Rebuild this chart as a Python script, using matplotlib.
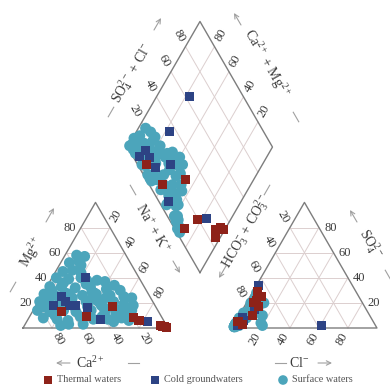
import numpy as np
import matplotlib
matplotlib.use("Agg")
import matplotlib.pyplot as plt

plt.rcParams['font.family'] = ['Liberation Serif', 'DejaVu Serif']
plt.rcParams['mathtext.fontset'] = 'custom'
plt.rcParams['mathtext.rm'] = 'Liberation Serif'
plt.rcParams['mathtext.it'] = 'Liberation Serif:italic'
plt.rcParams['mathtext.bf'] = 'Liberation Serif:bold'

# ---------------- data (percent of cations / anions) ----------------
thermal_na = [20, 39, 53, 72, 77, 96, 99, 97, 94]
thermal_mg = [13, 9, 17, 8, 6, 1, 0.5, 1, 2]
thermal_so4 = [5, 3, 17, 5, 10, 29, 25, 20, 22]
thermal_cl = [1, 6, 10, 2, 9, 3, 8, 5, 6]

cold_na = [23, 23, 12, 14, 19, 27, 36.5, 50, 83]
cold_mg = [40, 18, 18, 25, 21, 18, 16.5, 7, 5.5]
cold_so4 = [2, 34, 2, 8, 6, 7, 15, 4, 20]
cold_cl = [61, 1, 2.5, 3.5, 5, 4, 8, 3, 6]

surface_na = [8, 14, 6, 15, 5, 18, 3, 12, 25, 38, 2, 10, 20, 30, 42, 52,
              1, 9, 18, 28, 37, 47, 57, 63, 1, 8, 15, 24, 33, 43, 52, 60, 67,
              3, 12, 21, 30, 40, 50, 58, 66, 10, 20, 28, 45, 55, 64, 70,
              30, 40, 45, 35,
              5, 10, 15, 22, 26, 33, 4, 6, 16, 27, 36, 48, 55, 62, 17, 35,
              50, 60, 25, 46, 11, 12, 68, 20, 32,
              40, 35, 45]
surface_mg = [58, 57, 52, 50, 45, 44, 40, 39, 38, 37, 33, 33, 32, 33, 31, 30,
              27, 26, 27, 26, 27, 26, 25, 24, 21, 20, 21, 20, 21, 20, 21, 19, 18,
              14, 13, 14, 13, 14, 13, 12, 12, 8, 7, 6, 7, 7, 8, 6,
              3, 3, 24, 22,
              30, 36, 28, 24, 35, 29, 24, 17, 17, 17, 17, 16, 16, 15, 10, 9,
              9, 5, 2, 34, 46, 53, 14, 40, 38,
              22, 28, 18]
surface_so4 = [4, 6, 3, 8, 2, 10, 5, 7, 14, 12, 3, 9, 4, 18, 20, 10,
               1, 6, 12, 3, 22, 16, 6, 2, 6, 2, 15, 8, 5, 24, 13, 4, 1,
               4, 10, 5, 12, 7, 2, 8, 3, 3, 8, 1, 5, 10, 2, 1,
               2, 4, 28, 2,
               15, 18, 20, 17, 10, 25, 10, 8, 12, 3, 10, 7, 15, 5, 2, 8,
               4, 3, 2, 12, 6, 4, 2, 3, 6,
               20, 10, 4]
surface_cl = [2, 3, 2, 4, 1, 5, 3, 2, 6, 8, 1, 4, 2, 7, 8, 5,
              1, 2, 3, 3, 6, 10, 4, 2, 2, 1, 5, 6, 2, 4, 9, 1, 1,
              1, 3, 4, 10, 3, 2, 4, 1, 3, 1, 2, 5, 3, 4, 1,
              1, 2, 3, 20,
              5, 4, 3, 6, 3, 4, 3, 2, 2, 1, 4, 2, 5, 2, 1, 3,
              1, 2, 1, 4, 2, 1, 1, 2, 2,
              12, 16, 18]

tick_values = [20, 40, 60, 80]
legend_labels = ["Thermal waters", "Cold groundwaters", "Surface waters"]

# ---------------- geometry ----------------
H = np.sqrt(3) / 2
G = 0.441          # gap between triangles (in side units)
OX = 1 + G         # x offset of anion triangle
B = np.array([1 + G / 2, G * H])   # bottom vertex of diamond
EU = np.array([-0.5, H])
EV = np.array([0.5, H])

def cation_xy(na, mg):
    na = np.asarray(na) / 100.0
    mg = np.asarray(mg) / 100.0
    return na + 0.5 * mg, H * mg

def anion_xy(so4, cl):
    so4 = np.asarray(so4) / 100.0
    cl = np.asarray(cl) / 100.0
    return OX + cl + 0.5 * so4, H * so4

def diamond_xy(na, so4, cl):
    u = 1 - np.asarray(na) / 100.0
    v = (np.asarray(so4) + np.asarray(cl)) / 100.0
    return B[0] + 0.5 * (v - u), B[1] + H * (u + v)

SCALE = 145.0  # px per unit
W, HT = 390, 392
fig = plt.figure(figsize=(W / 100, HT / 100), dpi=100)
ax = fig.add_axes([0, 0, 1, 1])
ax.set_xlim(-23 / SCALE, (W - 23) / SCALE)
ax.set_ylim(-(HT - 328) / SCALE, 328 / SCALE)
ax.axis('off')

def P(px, py):
    return ((px - 23) / SCALE, (328 - py) / SCALE)

GRID = '#dccfcf'
EDGE = '#7d7d7d'
TXT = '#3a3a3a'
DECO = '#a0a0a0'

def seg(p, q, **kw):
    ax.plot([p[0], q[0]], [p[1], q[1]], **kw)

# ---------------- grids and outlines ----------------
for t in [0.2, 0.4, 0.6, 0.8]:
    seg((t / 2, t * H), (1 - t / 2, t * H), color=GRID, lw=0.7, zorder=1)
    seg((t, 0), (t + (1 - t) / 2, (1 - t) * H), color=GRID, lw=0.7, zorder=1)
    seg((1 - t, 0), ((1 - t) / 2, (1 - t) * H), color=GRID, lw=0.7, zorder=1)
    seg((OX + t / 2, t * H), (OX + 1 - t / 2, t * H), color=GRID, lw=0.7, zorder=1)
    seg((OX + t, 0), (OX + t + (1 - t) / 2, (1 - t) * H), color=GRID, lw=0.7, zorder=1)
    seg((OX + 1 - t, 0), (OX + (1 - t) / 2, (1 - t) * H), color=GRID, lw=0.7, zorder=1)
    p = B + t * EU
    seg(p, p + EV, color=GRID, lw=0.7, zorder=1)
    p = B + t * EV
    seg(p, p + EU, color=GRID, lw=0.7, zorder=1)

tri = np.array([[0, 0], [1, 0], [0.5, H], [0, 0]])
ax.plot(tri[:, 0], tri[:, 1], color=EDGE, lw=1.0, zorder=2)
ax.plot(tri[:, 0] + OX, tri[:, 1], color=EDGE, lw=1.0, zorder=2)
dia = np.array([B, B + EU, B + EU + EV, B + EV, B])
ax.plot(dia[:, 0], dia[:, 1], color=EDGE, lw=1.0, zorder=2)

# ---------------- tick labels ----------------
D = 0.088
FS = 9
for tv in tick_values:
    t = tv / 100.0
    lab = str(tv)
    ax.text(t / 2 - 0.035, t * H, lab, ha='right', va='center', fontsize=FS, color=TXT)
    p = np.array([1 - t, 0]) + D * np.array([0.5, -H])
    ax.text(p[0], p[1], lab, ha='center', va='center', rotation=-60, fontsize=FS, color=TXT)
    p = np.array([t + (1 - t) / 2, (1 - t) * H]) + D * np.array([0.5, H])
    ax.text(p[0], p[1], lab, ha='center', va='center', rotation=60, fontsize=FS, color=TXT)
    ax.text(OX + 1 - t / 2 + 0.035, t * H, lab, ha='left', va='center', fontsize=FS, color=TXT)
    p = np.array([OX + t, 0]) + D * np.array([-0.5, -H])
    ax.text(p[0], p[1], lab, ha='center', va='center', rotation=60, fontsize=FS, color=TXT)
    p = np.array([OX + (1 - t) / 2, (1 - t) * H]) + D * np.array([-0.5, H])
    ax.text(p[0], p[1], lab, ha='center', va='center', rotation=-60, fontsize=FS, color=TXT)
    p = B + EU + t * EV + D * np.array([-0.5, H])
    ax.text(p[0], p[1], lab, ha='center', va='center', rotation=-60, fontsize=FS, color=TXT)
    p = B + EV + t * EU + D * np.array([0.5, H])
    ax.text(p[0], p[1], lab, ha='center', va='center', rotation=60, fontsize=FS, color=TXT)

# ---------------- axis titles with line and arrow ----------------
LFS = 10
def deco(line_c, line_dir, label, label_c, rot, arr_from, arr_to):
    c = np.array(line_c, float)
    d = np.array(line_dir, float)
    d = d / np.hypot(*d) * 5.5
    seg(P(*(c - d)), P(*(c + d)), color=DECO, lw=0.8)
    ax.text(*P(*label_c), label, rotation=rot, ha='center', va='center',
            fontsize=LFS, color=TXT, rotation_mode='anchor')
    ax.annotate('', xy=P(*arr_to), xytext=P(*arr_from),
                arrowprops=dict(arrowstyle='->', color=DECO, lw=0.8,
                                shrinkA=0, shrinkB=0, mutation_scale=8))

deco((13, 287), (0.5, -0.866), r'Mg$^{2+}$', (32, 252), 60, (46, 222), (54, 208))
deco((133, 363), (1, 0), r'Ca$^{2+}$', (90, 363), 0, (70, 363), (56, 363))
deco((133, 190), (0.5, 0.866), r'Na$^{+}$ + K$^{+}$', (152, 228), -60, (173, 261), (180, 273))
deco((267, 190), (-0.5, 0.866), r'HCO$_3^{-}$ + CO$_3^{2-}$', (246, 231), 60, (226, 266), (219, 278))
deco((388, 275), (0.5, 0.866), r'SO$_4^{2-}$', (370, 244), -60, (357, 222), (350, 210))
deco((111, 112), (0.5, -0.866), r'SO$_4^{2-}$ + Cl$^{-}$', (132, 73), 60, (154, 30), (161, 18))
deco((296, 117), (0.5, 0.866), r'Ca$^{2+}$ + Mg$^{2+}$', (266, 63), -60, (241, 25), (234, 13))
deco((280, 363), (1, 0), r'Cl$^{-}$', (299, 363), 0, (318, 363), (332, 363))

# ---------------- data points ----------------
C_TH = '#8e2219'
C_CO = '#2d4384'
C_SU = '#4ca5bb'
S_C = 62
S_S = 42

groups = [
    (surface_na, surface_mg, surface_so4, surface_cl, 'o', C_SU, S_C, 3),
    (cold_na, cold_mg, cold_so4, cold_cl, 's', C_CO, S_S, 4),
    (thermal_na, thermal_mg, thermal_so4, thermal_cl, 's', C_TH, S_S, 5),
]
for na, mg, so4, cl, mk, col, s, z in groups:
    x, y = cation_xy(na, mg)
    ax.scatter(x, y, marker=mk, s=s, color=col, edgecolors='none', zorder=z)
    x, y = anion_xy(so4, cl)
    ax.scatter(x, y, marker=mk, s=s, color=col, edgecolors='none', zorder=z)
    x, y = diamond_xy(na, so4, cl)
    ax.scatter(x, y, marker=mk, s=s, color=col, edgecolors='none', zorder=z)

# ---------------- legend (manual) ----------------
leg_items = [('s', C_TH, 30, 48), ('s', C_CO, 30, 155), ('o', C_SU, 48, 283)]
for (mk, col, s, px), lab in zip(leg_items, legend_labels):
    ax.scatter(*P(px, 380), marker=mk, s=s, color=col, edgecolors='none', clip_on=False)
    ax.text(*P(px + 9, 380), lab, ha='left', va='center', fontsize=7.4, color='#555555')

fig.savefig('out.png', dpi=100)
